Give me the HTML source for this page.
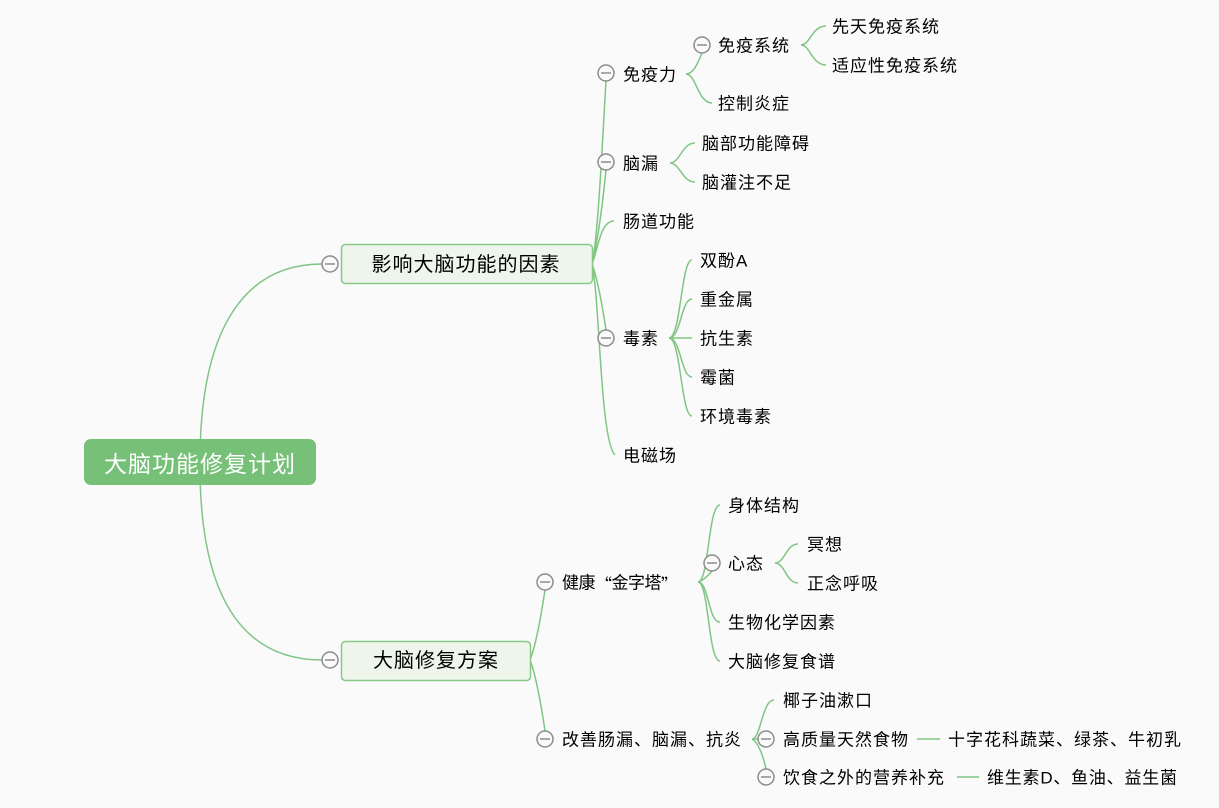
<!DOCTYPE html>
<html><head><meta charset="utf-8"><style>
html,body{margin:0;padding:0;background:#fafafa;}
svg{display:block;}
text{font-family:"Liberation Sans","Noto Sans CJK SC",sans-serif;fill:#000;dominant-baseline:central;}
.t{font-size:17px;letter-spacing:1px;}
.b{font-size:20px;letter-spacing:1px;}
.c{fill:none;stroke:#80c583;stroke-width:1.5;}
.k circle{fill:#fafafa;stroke:#8c8c8c;stroke-width:1.5;}
.k line{stroke:#8c8c8c;stroke-width:1.5;}
</style></head><body>
<svg width="1219" height="808" viewBox="0 0 1219 808" xmlns="http://www.w3.org/2000/svg">
<rect width="1219" height="808" fill="#fafafa"/>
<!-- root connectors -->
<path class="c" d="M200,462 C200,320 250,264 322,264"/>
<path class="c" d="M200,466 C200,608 250,660 322,660"/>
<!-- branch1 connectors -->
<path class="c" d="M592,264 C598,240 603,130 606,81"/>
<path class="c" d="M592,264 C598,240 603,200 606,170"/>
<path class="c" d="M592,264 C598,250 600,221 614,221"/>
<path class="c" d="M592,264 C598,280 603,310 606,330"/>
<path class="c" d="M592,264 C600,300 600,440 615,455"/>
<!-- 免疫力 -->
<path class="c" d="M686,74 C694,74 698,62 702,53"/>
<path class="c" d="M686,74 C696,74 698,103 712,103"/>
<!-- 免疫系统 -->
<path class="c" d="M801,45 C810,45 812,26 826,26"/>
<path class="c" d="M801,45 C810,45 812,65 826,65"/>
<!-- 脑漏 -->
<path class="c" d="M670,163 C680,163 682,143 695,143"/>
<path class="c" d="M670,163 C680,163 682,182 695,182"/>
<!-- 毒素 -->
<path class="c" d="M669,338 C681,338 681,260 692,260"/>
<path class="c" d="M669,338 C681,338 681,299 692,299"/>
<path class="c" d="M669,338 L692,338"/>
<path class="c" d="M669,338 C681,338 681,377 692,377"/>
<path class="c" d="M669,338 C681,338 681,416 692,416"/>
<!-- branch2 connectors -->
<path class="c" d="M530,660 C536,645 542,610 545,590"/>
<path class="c" d="M530,660 C536,675 542,710 545,731"/>
<!-- 健康 -->
<path class="c" d="M698,582 C709,582 708,505 720,505"/>
<path class="c" d="M698,582 C704,580 708,576 712,571"/>
<path class="c" d="M698,582 C709,582 708,622 720,622"/>
<path class="c" d="M698,582 C709,582 708,661 720,661"/>
<!-- 心态 -->
<path class="c" d="M775,563 C785,563 786,544 798,544"/>
<path class="c" d="M775,563 C785,563 786,583 798,583"/>
<!-- 改善 -->
<path class="c" d="M752,739 C761,739 762,700 774,700"/>
<path class="c" d="M752,739 L758,739"/>
<path class="c" d="M752,739 C758,742 763,755 766,769"/>
<line class="c" x1="917" y1="739" x2="940" y2="739"/>
<line class="c" x1="957" y1="777" x2="979" y2="777"/>

<!-- root -->
<rect x="84" y="439" width="232" height="46" rx="7" fill="#76c078"/>
<text x="200" y="464" text-anchor="middle" style="font-size:23px;letter-spacing:1px;fill:#fff">大脑功能修复计划</text>
<!-- branch boxes -->
<rect x="341.5" y="244.5" width="251" height="39" rx="4" fill="#eef6ec" stroke="#86c888" stroke-width="1.5"/>
<text class="b" x="466" y="265" text-anchor="middle">影响大脑功能的因素</text>
<rect x="341.5" y="641.5" width="189" height="39" rx="4" fill="#eef6ec" stroke="#86c888" stroke-width="1.5"/>
<text class="b" x="436" y="661" text-anchor="middle">大脑修复方案</text>

<!-- collapse circles -->
<g class="k">
<circle cx="330" cy="264" r="8"/><line x1="325" y1="264" x2="335" y2="264"/>
<circle cx="330" cy="660" r="8"/><line x1="325" y1="660" x2="335" y2="660"/>
<circle cx="606" cy="73" r="8"/><line x1="601" y1="73" x2="611" y2="73"/>
<circle cx="606" cy="162" r="8"/><line x1="601" y1="162" x2="611" y2="162"/>
<circle cx="606" cy="338" r="8"/><line x1="601" y1="338" x2="611" y2="338"/>
<circle cx="702" cy="45" r="8"/><line x1="697" y1="45" x2="707" y2="45"/>
<circle cx="545" cy="582" r="8"/><line x1="540" y1="582" x2="550" y2="582"/>
<circle cx="545" cy="739" r="8"/><line x1="540" y1="739" x2="550" y2="739"/>
<circle cx="712" cy="563" r="8"/><line x1="707" y1="563" x2="717" y2="563"/>
<circle cx="766" cy="739" r="8"/><line x1="761" y1="739" x2="771" y2="739"/>
<circle cx="766" cy="777" r="8"/><line x1="761" y1="777" x2="771" y2="777"/>
</g>

<!-- texts -->
<g transform="translate(0,1)">
<text class="t" x="623" y="74">免疫力</text>
<text class="t" x="718" y="45">免疫系统</text>
<text class="t" x="832" y="26">先天免疫系统</text>
<text class="t" x="832" y="65">适应性免疫系统</text>
<text class="t" x="718" y="103">控制炎症</text>
<text class="t" x="623" y="163">脑漏</text>
<text class="t" x="702" y="143">脑部功能障碍</text>
<text class="t" x="702" y="182">脑灌注不足</text>
<text class="t" x="623" y="221">肠道功能</text>
<text class="t" x="623" y="338">毒素</text>
<text class="t" x="700" y="260">双酚A</text>
<text class="t" x="700" y="299">重金属</text>
<text class="t" x="700" y="338">抗生素</text>
<text class="t" x="700" y="377">霉菌</text>
<text class="t" x="700" y="416">环境毒素</text>
<text class="t" x="623" y="455">电磁场</text>
<text class="t" x="562" y="582" textLength="117" lengthAdjust="spacing">健康<tspan style="font-family:'Noto Sans CJK SC',sans-serif">“</tspan>金字塔<tspan style="font-family:'Noto Sans CJK SC',sans-serif">”</tspan></text>
<text class="t" x="728" y="505">身体结构</text>
<text class="t" x="728" y="563">心态</text>
<text class="t" x="807" y="544">冥想</text>
<text class="t" x="807" y="583">正念呼吸</text>
<text class="t" x="728" y="622">生物化学因素</text>
<text class="t" x="728" y="661">大脑修复食谱</text>
<text class="t" x="562" y="739">改善肠漏、脑漏、抗炎</text>
<text class="t" x="783" y="700">椰子油漱口</text>
<text class="t" x="783" y="739">高质量天然食物</text>
<text class="t" x="948" y="739">十字花科蔬菜、绿茶、牛初乳</text>
<text class="t" x="783" y="777">饮食之外的营养补充</text>
<text class="t" x="987" y="777" textLength="191" lengthAdjust="spacing">维生素D、鱼油、益生菌</text>
</g>
</svg>
</body></html>
